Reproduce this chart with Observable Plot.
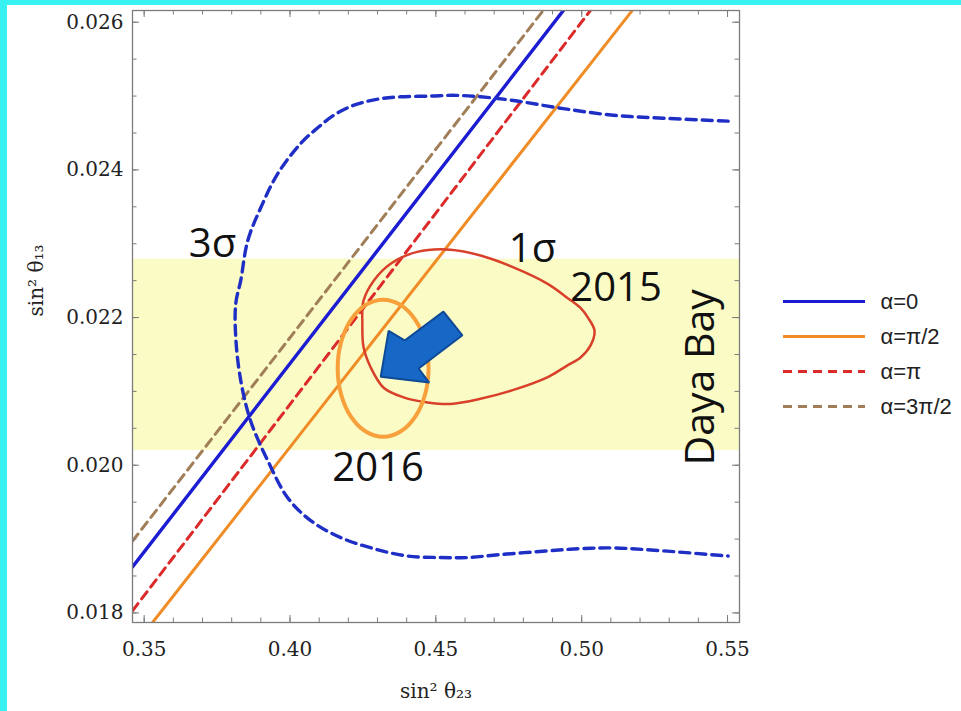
<!DOCTYPE html>
<html><head><meta charset="utf-8">
<script src="https://cdn.jsdelivr.net/npm/d3@7"></script>
<script src="https://cdn.jsdelivr.net/npm/@observablehq/plot@0.6"></script>
<style>
html,body{margin:0;padding:0;width:961px;height:711px;overflow:hidden;background:#38f2f2;}
#paper{position:absolute;left:7px;top:5px;right:0;bottom:0;background:#fff;}
#chart,#legend{position:absolute;}
#chart{left:0;top:0;}
#legend{left:760px;top:262px;}
</style></head><body>
<div id="paper"></div><div id="chart"></div><div id="legend"></div>
<script>
// ---- axes ----
const xDomain = [0.346, 0.5541];
const yDomain = [0.01787, 0.026159];
const xTicks = [0.35, 0.40, 0.45, 0.50, 0.55];
const xMinorTicks = [0.35,0.36,0.37,0.38,0.39,0.40,0.41,0.42,0.43,0.44,0.45,0.46,0.47,0.48,0.49,0.50,0.51,0.52,0.53,0.54,0.55];
const yTicks = [0.018, 0.020, 0.022, 0.024, 0.026];
const yMinorTicks = [0.018,0.0185,0.019,0.0195,0.020,0.0205,0.021,0.0215,0.022,0.0225,0.023,0.0235,0.024,0.0245,0.025,0.0255,0.026];
const xLabel = "sin\u00B2 \u03B8\u2082\u2083";
const yLabel = "sin\u00B2 \u03B8\u2081\u2083";

// ---- Daya Bay band ----
const dayaBayLo = 0.02020;
const dayaBayHi = 0.02279;

// ---- straight lines (alpha) : endpoints ----
const lineNames = ["α=0", "α=π/2", "α=π", "α=3π/2"];
const lineX1 = [0.346, 0.35288, 0.346, 0.346];
const lineY1 = [0.018622, 0.01787, 0.018028, 0.018972];
const lineX2 = [0.49373, 0.51736, 0.5030, 0.48682];
const lineY2 = [0.02616, 0.02616, 0.02616, 0.02616];
const lineColors = ["#1c1cd2", "#f08c26", "#dc2a2a", "#a07e58"];
const lineDash = [null, null, "9,6", "9,6"];
const lineWidth = [3.4, 3, 3, 3];

// ---- 3 sigma contour (open) ----
const sigma3X = [0.5502,0.5280,0.5109,0.4937,0.4766,0.4653,0.4568,0.4482,0.4379,0.4321,0.4266,0.4208,0.4150,0.4095,0.4037,0.3958,0.3900,0.3855,0.3831,0.3814,0.3814,0.3831,0.3865,0.3924,0.3992,0.4071,0.4174,0.4287,0.4403,0.4516,0.4609,0.4722,0.4883,0.4996,0.5109,0.5280,0.5502];
const sigma3Y = [0.02466,0.02470,0.02474,0.02483,0.02494,0.02499,0.02501,0.02500,0.02499,0.02497,0.02493,0.02486,0.02474,0.02457,0.02436,0.02395,0.02349,0.02304,0.02250,0.02219,0.02173,0.02115,0.02060,0.02006,0.01956,0.01925,0.01902,0.01887,0.01877,0.01875,0.01875,0.01879,0.01884,0.01887,0.01888,0.01884,0.01877];

// ---- 1 sigma contour 2015 (closed) ----
const sigma1X = [0.4550,0.4653,0.4766,0.4882,0.4950,0.4996,0.5023,0.5044,0.5030,0.4996,0.4950,0.4882,0.4766,0.4653,0.4550,0.4472,0.4389,0.4321,0.4276,0.4252,0.4248,0.4252,0.4287,0.4345,0.4436];
const sigma1Y = [0.02292,0.02284,0.02268,0.02246,0.02227,0.02213,0.02199,0.02182,0.02162,0.02146,0.02135,0.02119,0.02102,0.02090,0.02083,0.02085,0.02092,0.02105,0.02133,0.02160,0.02192,0.02223,0.02250,0.02273,0.02289];

// ---- 2016 region (orange ellipse) ----
const region2016X = [0.43192,0.43788,0.44295,0.44630,0.44750,0.44630,0.44295,0.43788,0.43192,0.42596,0.42089,0.41753,0.41634,0.41753,0.42089,0.42596];
const region2016Y = [0.022243,0.022172,0.021970,0.021669,0.021314,0.020959,0.020659,0.020457,0.020386,0.020457,0.020659,0.020959,0.021314,0.021669,0.021970,0.022172];

// ---- arrow 2015 -> 2016 ----
const arrowX = [0.4311,0.4338,0.4393,0.4526,0.4591,0.4441,0.4477];
const arrowY = [0.02120,0.02182,0.02169,0.02208,0.02176,0.02131,0.02112];

// ---- annotations ----
const annoText = ["3σ", "1σ", "2015", "2016"];
const annoX = [0.3653, 0.4750, 0.4961, 0.4145];
const annoY = [0.02300, 0.02292, 0.02240, 0.01996];
const dayaText = "Daya Bay";
const dayaX = 0.5410;
const dayaY = 0.02119;

// ---- layout ----
const W = 961, H = 711, mL = 132, mR = 222, mT = 10, mB = 89;
const frameW = W - mL - mR, frameH = H - mT - mB;
const gray = "#7c7c7c";
const serif = "'DejaVu Serif', serif";
const handFont = "'Comic Sans MS', 'Open Sans', sans-serif";

const zip = (X, Y) => X.map((x, i) => ({x, y: Y[i]}));
const lines = lineNames.map((name, i) => ({name, pts: [{x: lineX1[i], y: lineY1[i]}, {x: lineX2[i], y: lineY2[i]}], i}));

const marks = [];
marks.push(Plot.rect([{lo: dayaBayLo, hi: dayaBayHi}], {y1: "lo", y2: "hi", fill: "#fbfbc6"}));
for (const L of lines) {
  marks.push(Plot.line(L.pts, {x: "x", y: "y", stroke: lineColors[L.i], strokeWidth: lineWidth[L.i], strokeDasharray: lineDash[L.i] || undefined, clip: true}));
}
marks.push(Plot.line(zip(sigma3X, sigma3Y), {x: "x", y: "y", curve: "catmull-rom", stroke: "#1f2fc6", strokeWidth: 3.4, strokeDasharray: "10,6", clip: true}));
marks.push(Plot.line(zip(sigma1X, sigma1Y), {x: "x", y: "y", curve: "catmull-rom-closed", stroke: "#d8402a", strokeWidth: 2.5, clip: true}));
marks.push(Plot.line(zip(region2016X, region2016Y), {x: "x", y: "y", curve: "catmull-rom-closed", stroke: "#f7a03c", strokeWidth: 4}));
marks.push(Plot.line(zip(arrowX, arrowY), {x: "x", y: "y", curve: "linear-closed", fill: "#1767c6", stroke: "#0e4a96", strokeWidth: 2, strokeLinejoin: "miter"}));
marks.push(Plot.text(annoText.map((t, i) => i), {x: i => annoX[i], y: i => annoY[i], text: i => annoText[i], textAnchor: "start", fontSize: 40, fontFamily: handFont, fill: "#111"}));
marks.push(Plot.text([dayaText], {x: () => dayaX, y: () => dayaY, text: d => d, rotate: -90, fontSize: 41, fontFamily: handFont, fill: "#111"}));
marks.push(Plot.frame({stroke: gray, strokeWidth: 1.3}));
marks.push(Plot.ruleX(xMinorTicks, {x: d => d, insetTop: frameH - 4.5, stroke: gray}));
marks.push(Plot.ruleX(xMinorTicks, {x: d => d, insetBottom: frameH - 4.5, stroke: gray}));
marks.push(Plot.ruleX(xTicks, {x: d => d, insetTop: frameH - 7, stroke: gray}));
marks.push(Plot.ruleX(xTicks, {x: d => d, insetBottom: frameH - 7, stroke: gray}));
marks.push(Plot.ruleY(yMinorTicks, {y: d => d, insetRight: frameW - 4.5, stroke: gray}));
marks.push(Plot.ruleY(yMinorTicks, {y: d => d, insetLeft: frameW - 4.5, stroke: gray}));
marks.push(Plot.ruleY(yTicks, {y: d => d, insetRight: frameW - 7, stroke: gray}));
marks.push(Plot.ruleY(yTicks, {y: d => d, insetLeft: frameW - 7, stroke: gray}));
marks.push(Plot.axisX(xTicks, {tickSize: 0, tickPadding: 19, tickFormat: d3.format(".2f"), fontSize: 20, fontFamily: serif, fill: "#222", label: null}));
marks.push(Plot.axisY(yTicks, {tickSize: 0, tickPadding: 9, tickFormat: d3.format(".3f"), fontSize: 20, fontFamily: serif, fill: "#222", label: null}));
marks.push(Plot.text([xLabel], {text: d => d, frameAnchor: "bottom", dy: 75, fontSize: 20, fontFamily: serif, fill: "#222"}));
marks.push(Plot.text([yLabel], {text: d => d, frameAnchor: "left", dx: -96, rotate: -90, fontSize: 20, fontFamily: serif, fill: "#222"}));

const chart = Plot.plot({
  width: W, height: H,
  marginLeft: mL, marginRight: mR, marginTop: mT, marginBottom: mB,
  x: {domain: xDomain, label: null},
  y: {domain: yDomain, label: null},
  style: {background: "transparent", fontFamily: serif, fontSize: "20px", overflow: "visible"},
  marks
});
document.getElementById("chart").appendChild(chart);

// ---- legend ----
const legendMarks = lineNames.map((name, i) =>
  Plot.ruleY([name], {y: d => d, insetLeft: 23, insetRight: 96, stroke: lineColors[i], strokeWidth: 3, strokeDasharray: lineDash[i] || undefined})
);
legendMarks.push(Plot.text(lineNames, {y: d => d, text: d => d, frameAnchor: "left", dx: 120, textAnchor: "start", fontSize: 22, fontFamily: "'Liberation Sans', Arial, sans-serif", fill: "#222", letterSpacing: "2px"}));
const legend = Plot.plot({
  width: 201, height: 185,
  marginLeft: 0, marginRight: 0, marginTop: 21, marginBottom: 23,
  x: {domain: [0, 1], axis: null},
  y: {type: "point", domain: lineNames, axis: null},
  style: {background: "transparent"},
  marks: legendMarks
});
document.getElementById("legend").appendChild(legend);
</script></body></html>
